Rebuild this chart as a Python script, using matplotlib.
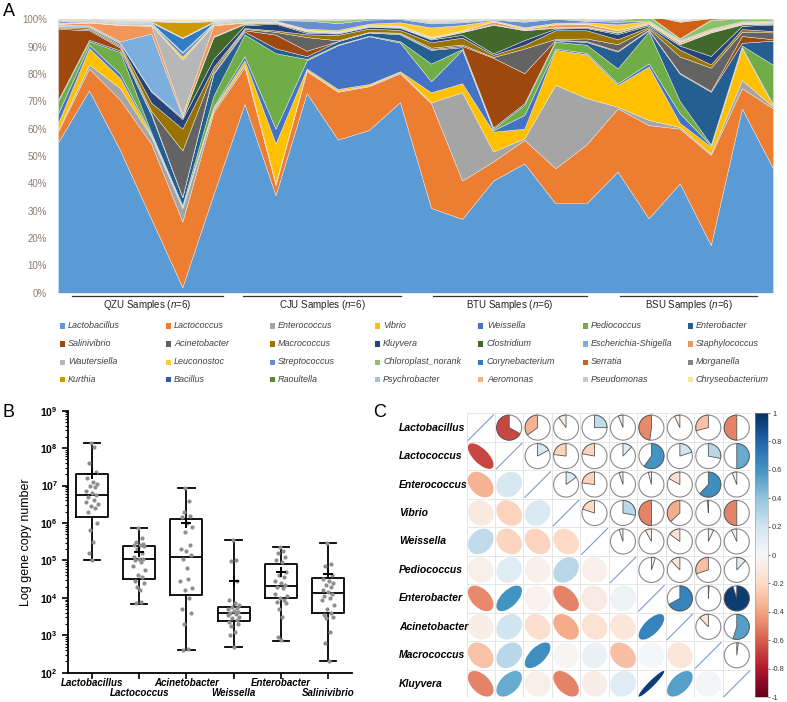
import numpy as np
import matplotlib
matplotlib.use("Agg")
import matplotlib.pyplot as plt
import matplotlib.transforms as mtransforms
from matplotlib.patches import Rectangle, Ellipse, Wedge, Circle
from matplotlib.lines import Line2D
from matplotlib.colors import Normalize
from matplotlib.cm import ScalarMappable

plt.rcParams['font.family'] = ['Liberation Sans', 'DejaVu Sans']
plt.rcParams['mathtext.fontset'] = 'custom'
plt.rcParams['mathtext.rm'] = 'Liberation Sans'
plt.rcParams['mathtext.it'] = 'Liberation Sans:italic'
plt.rcParams['mathtext.bf'] = 'Liberation Sans:bold'

# ---------------- Panel A: relative abundance (%) per sample ----------------
samples = np.arange(24)
groups = ["QZU", "CJU", "BTU", "BSU"]

lactobacillus = [55, 74, 52, 27, 2, 36, 69, 35.7, 73, 56, 59.5, 69.7, 31, 27, 41, 47.3, 32.7, 32.7, 44.3, 27.2, 40, 17.4, 67.4, 45.5]
lactococcus = [4, 8, 18.5, 27.5, 24, 30, 13.5, 3.7, 8, 17.5, 16, 10.5, 38.3, 14, 7, 8.6, 12.8, 21.5, 23.1, 34.1, 20, 33, 7.4, 21.9]
enterococcus = [0.5, 1.5, 4.3, 2.5, 5, 1, 1, 0.6, 0.5, 0.3, 0.3, 0.5, 0.3, 32.3, 3.6, 0.6, 30.5, 17, 0.6, 1.9, 0.6, 0.5, 3, 0.6]
vibrio = [2.5, 6, 3.6, 0.5, 0, 0.5, 1.5, 14.6, 0.5, 0.7, 0.5, 0.3, 3.7, 3.3, 7.3, 3.5, 12.8, 16, 8, 19.5, 1.5, 2.5, 11.5, 0.6]
weissella = [3.5, 1.2, 1.6, 0.5, 0.5, 0.5, 1.5, 5.4, 3, 16, 17.5, 10.5, 4, 12.2, 0.5, 5, 0.5, 0.5, 0.6, 1.2, 3.5, 0.5, 0.5, 0.3]
pediococcus = [4.5, 1.3, 8, 0.5, 0.5, 4, 8, 27.6, 0.5, 0.3, 0.2, 0.5, 6.5, 0.3, 0.5, 3.7, 2.5, 3, 5.4, 11.6, 4.5, 0.3, 0.6, 14.5]
enterobacter = [0.5, 0.5, 0.6, 6.5, 3, 8, 1, 1.8, 1, 1.2, 1.2, 2.5, 5, 0.7, 0.5, 0.6, 0.5, 1, 6.2, 0.5, 10, 19.3, 1, 8.8]
salinivibrio = [26, 3.5, 1, 0.5, 0, 0.5, 0.5, 5, 2, 0, 0, 0.3, 0.3, 0.5, 25.5, 11, 0.2, 0.3, 0.3, 0.2, 0.3, 0.3, 2.5, 0.5]
acinetobacter = [0.5, 0.5, 0.5, 1, 17, 1, 0.5, 1, 5, 0.3, 0.2, 0.3, 0.5, 0.5, 0.3, 9, 0.3, 1, 2.4, 0.5, 6, 8.5, 1.5, 2.5]
macrococcus = [0.3, 0.5, 0.5, 3, 8, 1, 0.3, 0.5, 1, 2, 1.2, 1, 2, 2.5, 0.8, 1.3, 3.2, 3, 1.8, 0.5, 2.5, 1.2, 1, 0.5]
kluyvera = [0.2, 0.3, 0.5, 4, 3.5, 3, 1, 2.5, 0.5, 0.5, 0.6, 0.8, 1, 1, 0.5, 1.8, 0.6, 0.8, 1.9, 0.5, 1.5, 3.1, 1.2, 2.4]
clostridium = [0.1, 0.2, 0.3, 0.3, 0.5, 8, 0.5, 0.3, 0.5, 0.2, 0.2, 0.2, 0.3, 1, 10.5, 3.6, 0.3, 0.3, 0.5, 0.5, 0.5, 8.6, 0.5, 0.3]
escherichia_shigella = [0.2, 0.3, 0.5, 21, 0.3, 0.3, 0.2, 0.2, 0.2, 0.2, 0.2, 0.2, 0.2, 0.2, 0.2, 0.2, 0.2, 0.2, 0.2, 0.2, 0.2, 0.2, 0.2, 0.2]
staphylococcus = [0.5, 1, 6, 2.8, 1, 4, 0.3, 0.2, 0.3, 0.2, 0.2, 0.3, 0.3, 0.3, 1, 0.3, 1, 1, 0.7, 0.3, 0.6, 0.3, 0.3, 0.3]
wautersiella = [0.1, 0.1, 0.1, 0.3, 20, 0.1, 0.1, 0.1, 0.1, 0.1, 0.1, 0.1, 0.1, 0.1, 0.1, 0.1, 0.1, 0.1, 0.1, 0.1, 0.1, 0.1, 0.1, 0.1]
leuconostoc = [0.3, 0.3, 0.3, 0.3, 1, 0.3, 0.3, 0.3, 0.4, 0.6, 0.5, 1.2, 3.5, 2, 0.3, 0.5, 0.5, 0.5, 2, 0.5, 0.3, 0.5, 0.3, 0.3]
streptococcus = [0.5, 0.3, 0.3, 0.3, 1.5, 0.3, 0.3, 0.2, 3, 2.5, 1.5, 1.2, 1.5, 1, 0.3, 2, 1.5, 0.5, 1, 0.3, 0.3, 0.3, 0.3, 0.3]
chloroplast_norank = [0.3, 0.2, 0.2, 0.2, 0.3, 0.2, 0.3, 0.2, 0.3, 1, 0.5, 0.3, 0.3, 0.3, 0.2, 0.3, 0.3, 0.3, 0.5, 1.5, 0.5, 3.1, 1, 0.5]
corynebacterium = [0.2, 0.2, 0.2, 0.2, 5, 0.2, 0.2, 0.1, 0.2, 0.2, 0.2, 0.2, 0.2, 0.2, 0.1, 0.2, 0.2, 0.2, 0.3, 0.2, 0.2, 0.2, 0.3, 0.2]
serratia = [0.1, 0.1, 0.1, 0.1, 0.1, 0.1, 0.1, 0.1, 0.1, 0.1, 0.1, 0.1, 0.1, 0.1, 0.1, 0.1, 0.1, 0.1, 0.1, 0.2, 6, 0.5, 0.1, 0.1]
morganella = [0.2, 0.2, 0.2, 0.2, 0.2, 0.2, 0.2, 0.2, 0.2, 0.2, 0.2, 0.2, 0.2, 0.2, 0.2, 0.2, 0.2, 0.2, 0.2, 0.2, 0.2, 0.2, 0.2, 0.5]
kurthia = [0.1, 0.1, 0.1, 0.1, 5.5, 0.1, 0.1, 0.1, 0.1, 0.1, 0.1, 0.1, 0.1, 0.1, 0.1, 0.1, 0.1, 0.1, 0.1, 0.1, 0.1, 0.1, 0.1, 0.1]
bacillus = [0.1, 0.1, 0.1, 0.1, 0.1, 0.1, 0.1, 0.1, 0.1, 0.1, 0.1, 0.1, 0.1, 0.1, 0.1, 0.1, 0.1, 0.1, 0.1, 0.1, 0.1, 0.1, 0.1, 0.1]
raoultella = [0.1, 0.1, 0.1, 0.1, 0.1, 0.1, 0.1, 0.1, 0.1, 0.1, 0.1, 0.1, 0.1, 0.1, 0.1, 0.1, 0.1, 0.1, 0.1, 0.1, 0.1, 0.1, 0.1, 0.1]
psychrobacter = [0.2, 0.2, 0.2, 0.2, 0.2, 0.2, 0.2, 0.2, 0.2, 0.2, 0.2, 0.2, 0.2, 0.2, 0.2, 0.2, 0.2, 0.2, 0.2, 0.2, 0.2, 0.2, 0.2, 0.2]
aeromonas = [0.1, 0.1, 0.1, 0.1, 0.1, 0.1, 0.1, 0.1, 0.1, 0.1, 0.1, 0.1, 0.1, 0.1, 0.1, 0.1, 0.1, 0.1, 0.1, 0.1, 0.1, 0.1, 0.1, 0.1]
pseudomonas = [0.1, 0.1, 0.1, 0.1, 0.1, 0.1, 0.1, 0.1, 0.1, 0.1, 0.1, 0.1, 0.1, 0.1, 0.1, 0.1, 0.1, 0.1, 0.1, 0.1, 0.1, 0.1, 0.1, 0.1]
chryseobacterium = [0.2, 0.2, 0.2, 0.2, 0.7, 0.2, 0.2, 0.2, 0.2, 0.2, 0.2, 0.2, 0.2, 0.2, 0.2, 0.2, 0.2, 0.2, 0.2, 0.2, 0.2, 0.2, 0.2, 0.2]

genus_names = ["Lactobacillus", "Lactococcus", "Enterococcus", "Vibrio", "Weissella", "Pediococcus", "Enterobacter",
               "Salinivibrio", "Acinetobacter", "Macrococcus", "Kluyvera", "Clostridium", "Escherichia-Shigella", "Staphylococcus",
               "Wautersiella", "Leuconostoc", "Streptococcus", "Chloroplast_norank", "Corynebacterium", "Serratia", "Morganella",
               "Kurthia", "Bacillus", "Raoultella", "Psychrobacter", "Aeromonas", "Pseudomonas", "Chryseobacterium"]
genus_values = [lactobacillus, lactococcus, enterococcus, vibrio, weissella, pediococcus, enterobacter,
                salinivibrio, acinetobacter, macrococcus, kluyvera, clostridium, escherichia_shigella, staphylococcus,
                wautersiella, leuconostoc, streptococcus, chloroplast_norank, corynebacterium, serratia, morganella,
                kurthia, bacillus, raoultella, psychrobacter, aeromonas, pseudomonas, chryseobacterium]
genus_colors = ["#5B9BD5", "#ED7D31", "#A5A5A5", "#FFC000", "#4472C4", "#70AD47", "#255E91",
                "#9E480E", "#636363", "#997300", "#264478", "#43682B", "#7CAFDD", "#F1975A",
                "#B7B7B7", "#FFCD33", "#698ED0", "#8CC168", "#327DC2", "#D26012", "#848484",
                "#CC9A00", "#335AA1", "#5A8A39", "#9DC3E6", "#F4B183", "#C9C9C9", "#FFE699"]

# ---------------- Panel B: log10 gene copy number ----------------
b_genera = ["Lactobacillus", "Lactococcus", "Acinetobacter", "Weissella", "Enterobacter", "Salinivibrio"]
b_whislo = [5.01, 3.84, 2.61, 2.68, 2.86, 2.31]
b_q1 = [6.17, 4.50, 4.08, 3.38, 3.99, 3.59]
b_med = [6.75, 5.03, 5.10, 3.60, 4.32, 4.14]
b_q3 = [7.31, 5.39, 6.10, 3.76, 4.90, 4.54]
b_whishi = [8.13, 5.86, 6.94, 5.55, 5.37, 5.47]
b_mean = [7.31, 5.23, 5.99, 4.46, 4.70, 4.63]
b_points = [
    [8.13, 8.02, 7.6, 7.35, 7.2, 7.1, 7.05, 7.0, 6.95, 6.85, 6.8, 6.75, 6.7, 6.62, 6.55, 6.5, 6.45, 6.4, 6.3, 6.0, 5.8, 5.5, 5.2, 5.02],
    [5.86, 5.6, 5.5, 5.45, 5.42, 5.4, 5.38, 5.3, 5.2, 5.1, 5.05, 5.03, 5.0, 4.95, 4.85, 4.75, 4.6, 4.55, 4.45, 4.4, 4.3, 3.9, 3.85, 4.2],
    [6.94, 6.6, 6.3, 6.2, 6.15, 6.0, 5.9, 5.75, 5.4, 5.3, 5.25, 5.15, 5.05, 4.5, 4.45, 4.25, 4.2, 4.0, 3.7, 3.6, 3.3, 2.62, 2.61, 4.8],
    [5.55, 5.0, 4.98, 4.45, 3.95, 3.85, 3.8, 3.75, 3.72, 3.7, 3.65, 3.62, 3.6, 3.58, 3.55, 3.5, 3.45, 3.4, 3.35, 3.3, 3.25, 3.1, 3.0, 2.68],
    [5.37, 5.25, 5.2, 5.1, 5.0, 4.95, 4.7, 4.6, 4.55, 4.45, 4.4, 4.35, 4.3, 4.25, 4.1, 4.05, 4.0, 3.95, 3.9, 3.85, 3.7, 3.5, 2.95, 2.87],
    [5.47, 4.9, 4.85, 4.6, 4.5, 4.45, 4.4, 4.35, 4.3, 4.2, 4.15, 4.1, 4.05, 4.0, 3.95, 3.8, 3.7, 3.6, 3.55, 3.5, 3.45, 3.1, 2.8, 2.31],
]

# ---------------- Panel C: correlation matrix ----------------
c_genera = ["Lactobacillus", "Lactococcus", "Enterococcus", "Vibrio", "Weissella", "Pediococcus",
            "Enterobacter", "Acinetobacter", "Macrococcus", "Kluyvera"]
corr = np.array([
    [1.00, -0.67, -0.35, -0.10, 0.25, -0.06, -0.48, -0.07, -0.29, -0.50],
    [-0.67, 1.00, 0.17, -0.23, -0.22, 0.12, 0.60, 0.20, 0.28, 0.50],
    [-0.35, 0.17, 1.00, 0.15, -0.23, -0.05, -0.04, -0.17, 0.62, -0.06],
    [-0.10, -0.23, 0.15, 1.00, -0.20, 0.28, -0.50, -0.37, -0.01, -0.50],
    [0.25, -0.22, -0.23, -0.20, 1.00, -0.05, -0.08, -0.15, 0.07, -0.07],
    [-0.06, 0.12, -0.05, 0.28, -0.05, 1.00, 0.05, -0.12, -0.30, 0.12],
    [-0.48, 0.60, -0.04, -0.50, -0.08, 0.05, 1.00, 0.67, 0.01, 0.95],
    [-0.07, 0.20, -0.17, -0.37, -0.15, -0.12, 0.67, 1.00, -0.12, 0.55],
    [-0.29, 0.28, 0.62, -0.01, 0.07, -0.30, 0.01, -0.12, 1.00, 0.02],
    [-0.50, 0.50, -0.06, -0.50, -0.07, 0.12, 0.95, 0.55, 0.02, 1.00],
])

# --- figure, pixel helpers ---
W, H = 787, 702
fig = plt.figure(figsize=(W / 100, H / 100), dpi=100)


def fx(x):
    return x / W


def fy(y):
    return 1 - y / H


# ================= A =================
ax_a = fig.add_axes([fx(58), fy(292.7), fx(773) - fx(58), fy(19.3) - fy(292.7)])
ax_a.stackplot(samples, *genus_values, colors=genus_colors, linewidth=0.3, edgecolor="#ececec")
ax_a.set_xlim(0, 23)
ax_a.set_ylim(0, 100)
ax_a.set_yticks(np.arange(0, 101, 10))
ax_a.set_yticklabels([f"{v}%" for v in range(0, 101, 10)])
ax_a.tick_params(axis="y", length=0, labelsize=7, labelcolor="#8a7e72", pad=8)
ax_a.set_xticks([])
for s in ax_a.spines.values():
    s.set_visible(False)

group_spans = [(72, 223), (243, 401), (433, 587), (620, 757)]
for g, (x0, x1) in zip(groups, group_spans):
    fig.add_artist(Line2D([fx(x0), fx(x1)], [fy(295.7), fy(295.7)], color="#333333", lw=0.9))
    fig.text(fx((x0 + x1) / 2), fy(305), g + r" Samples ($\it{n}$=6)", ha="center", va="center",
             fontsize=7, color="#222222")

leg_x = [62, 168, 272, 377, 481, 585, 690]
leg_y = [326, 344, 362, 380]
for k, (name, col) in enumerate(zip(genus_names, genus_colors)):
    r, c = divmod(k, 7)
    x, y = leg_x[c], leg_y[r]
    fig.add_artist(Rectangle((fx(x - 2.5), fy(y + 2.5)), 5 / W, 5 / H, facecolor=col, edgecolor="none"))
    fig.text(fx(x + 6), fy(y), name, ha="left", va="center", fontsize=6.5, style="italic", color="#404040")

fig.text(fx(3), fy(3), "A", ha="left", va="top", fontsize=13)

# ================= B =================
ax_b = fig.add_axes([fx(68.3), fy(672.7), fx(351.8) - fx(68.3), fy(410.7) - fy(672.7)])
stats = []
for i in range(len(b_genera)):
    stats.append(dict(whislo=10 ** b_whislo[i], q1=10 ** b_q1[i], med=10 ** b_med[i],
                      q3=10 ** b_q3[i], whishi=10 ** b_whishi[i], fliers=[]))
line_kw = dict(color="black", lw=1.3)
ax_b.bxp(stats, positions=range(len(b_genera)), widths=0.68, capwidths=0.35, showfliers=False,
         boxprops=line_kw, whiskerprops=line_kw, capprops=line_kw,
         medianprops=line_kw, patch_artist=False)
jitter = [-0.02, 0.05, -0.06, 0.08, -0.1, 0.02, 0.11, -0.04, 0.07, -0.12, 0.0, 0.09,
          -0.08, 0.04, -0.13, 0.12, -0.03, 0.06, -0.09, 0.1, -0.05, 0.03, -0.07, 0.01]
for i, vals in enumerate(b_points):
    ax_b.scatter(np.array(jitter) + i, np.power(10.0, vals), s=9, color="#8e8e8e", zorder=3, linewidths=0)
ax_b.plot(range(len(b_genera)), np.power(10.0, b_mean), linestyle="none", marker="+",
          markersize=7, markeredgewidth=1.4, color="black", zorder=4)
ax_b.set_yscale("log")
ax_b.set_ylim(1e2, 1e9)
ax_b.set_xlim(-0.5, 5.5)
ax_b.set_yticks([10.0 ** e for e in range(2, 10)])
ax_b.set_yticklabels([r"$\mathbf{10^{%d}}$" % e for e in range(2, 10)])
ax_b.tick_params(axis="y", which="major", direction="out", length=4, width=1.2, labelsize=7.5)
ax_b.tick_params(axis="y", which="minor", direction="out", length=2.5, width=0.8)
ax_b.set_xticks(range(len(b_genera)))
ax_b.set_xticklabels([""] * len(b_genera))
ax_b.tick_params(axis="x", direction="out", length=4, width=1.2)
for side in ["top", "right"]:
    ax_b.spines[side].set_visible(False)
for side in ["left", "bottom"]:
    ax_b.spines[side].set_linewidth(1.3)
ax_b.set_ylabel("Log gene copy number", fontsize=9, labelpad=6)
trans_b = mtransforms.blended_transform_factory(ax_b.transData, fig.transFigure)
for i, name in enumerate(b_genera):
    ypix = 682.7 if i % 2 == 0 else 693.3
    ax_b.text(i, fy(ypix), name, transform=trans_b, ha="center", va="center",
              fontsize=7, fontweight="bold", style="italic")

fig.text(fx(3), fy(404), "B", ha="left", va="top", fontsize=13)

# ================= C =================
ax_c = fig.add_axes([fx(466.5), fy(698), fx(751) - fx(466.5), fy(413.4) - fy(698)])
ax_c.set_xlim(0, 10)
ax_c.set_ylim(0, 10)
ax_c.axis("off")
cmap = plt.get_cmap("RdBu")
norm = Normalize(-1, 1)
n = len(c_genera)
for k in range(n + 1):
    ax_c.plot([k, k], [0, n], color="#e2e2e2", lw=0.6, zorder=1)
    ax_c.plot([0, n], [k, k], color="#e2e2e2", lw=0.6, zorder=1)
for i in range(n):
    for j in range(n):
        r = corr[i, j]
        cx, cy = j + 0.5, n - i - 0.5
        if i == j:
            ax_c.plot([cx - 0.45, cx + 0.45], [cy - 0.45, cy + 0.45], color="#7c9ccf", lw=0.8, zorder=2)
        elif i > j:
            w = 0.9 * np.sqrt(1 + abs(r))
            h = 0.9 * np.sqrt(1 - abs(r))
            ang = 45 if r > 0 else -45
            ax_c.add_patch(Ellipse((cx, cy), w, h, angle=ang, facecolor=cmap(norm(r)),
                                   edgecolor="none", zorder=2))
        else:
            ax_c.add_patch(Circle((cx, cy), 0.44, facecolor="white", edgecolor="#8a8a8a", lw=0.8, zorder=2))
            if r >= 0:
                t1, t2 = 90 - 360 * r, 90
            else:
                t1, t2 = 90, 90 - 360 * r
            ax_c.add_patch(Wedge((cx, cy), 0.44, t1, t2, facecolor=cmap(norm(r)),
                                 edgecolor="#555555", lw=0.6, zorder=3))
for i, name in enumerate(c_genera):
    fig.text(fx(399), fy(413.4 + (i + 0.5) * 28.46), name, ha="left", va="center",
             fontsize=7.5, fontweight="bold", style="italic")

cax = fig.add_axes([fx(755), fy(697), fx(768) - fx(755), fy(413) - fy(697)])
cb = fig.colorbar(ScalarMappable(norm=norm, cmap=cmap), cax=cax)
cb_ticks = [-1, -0.8, -0.6, -0.4, -0.2, 0, 0.2, 0.4, 0.6, 0.8, 1]
cb.set_ticks(cb_ticks)
cb.set_ticklabels([f"{t:g}" for t in cb_ticks])
cb.outline.set_linewidth(0.4)
cb.outline.set_edgecolor("#999999")
cax.tick_params(labelsize=5.3, length=1.5, width=0.5, colors="#333333", pad=1.5)

fig.text(fx(373), fy(404), "C", ha="left", va="top", fontsize=13)

fig.savefig("out.png", dpi=100)
